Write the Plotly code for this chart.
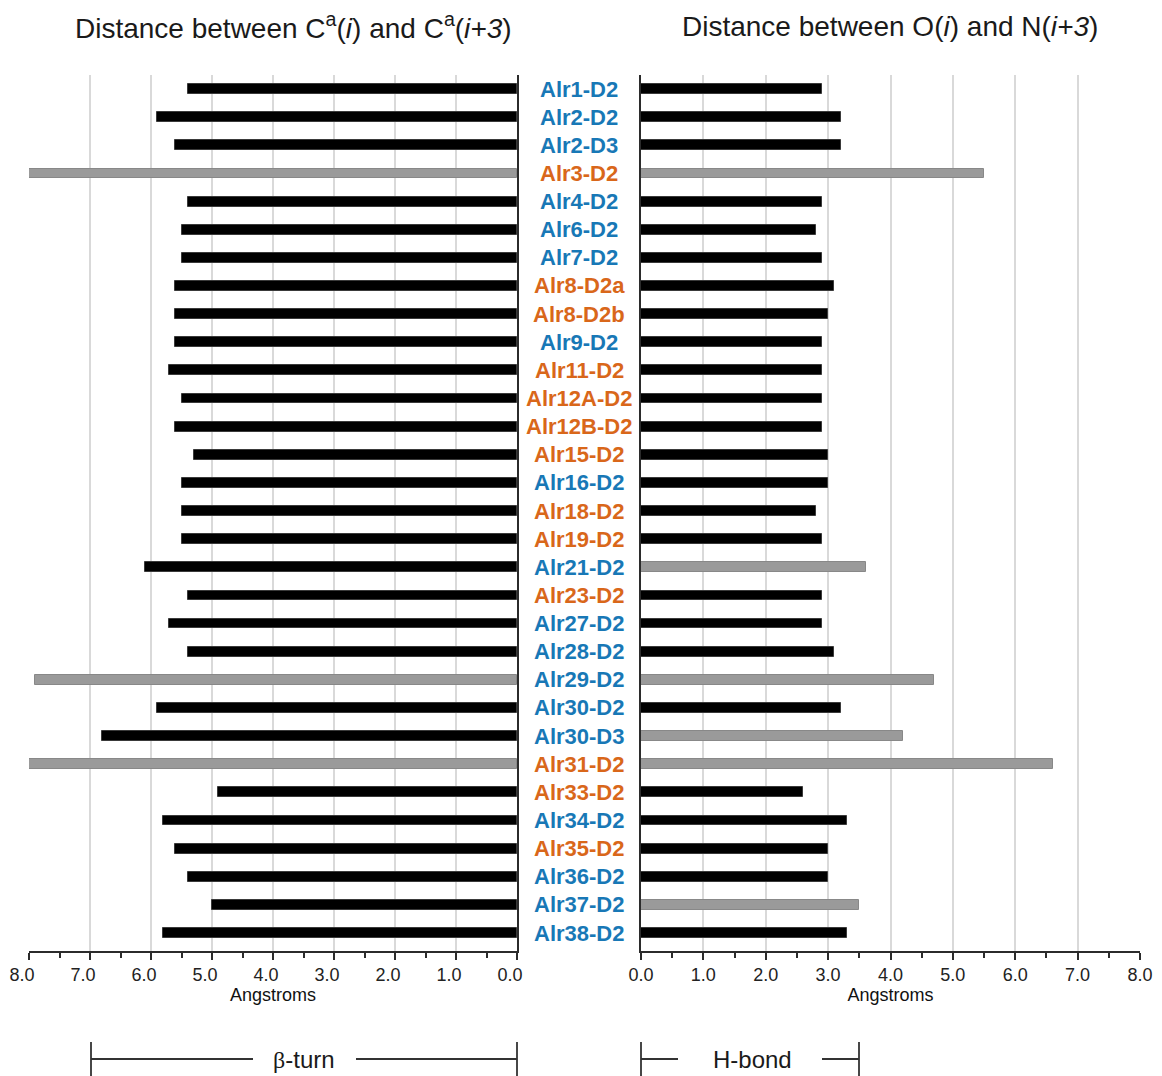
import plotly.graph_objects as go

categories = ["Alr1-D2", "Alr2-D2", "Alr2-D3", "Alr3-D2", "Alr4-D2", "Alr6-D2", "Alr7-D2",
              "Alr8-D2a", "Alr8-D2b", "Alr9-D2", "Alr11-D2", "Alr12A-D2", "Alr12B-D2",
              "Alr15-D2", "Alr16-D2", "Alr18-D2", "Alr19-D2", "Alr21-D2", "Alr23-D2",
              "Alr27-D2", "Alr28-D2", "Alr29-D2", "Alr30-D2", "Alr30-D3", "Alr31-D2",
              "Alr33-D2", "Alr34-D2", "Alr35-D2", "Alr36-D2", "Alr37-D2", "Alr38-D2"]

# label group: "b" = blue, "o" = orange
label_group = ["b", "b", "b", "o", "b", "b", "b",
               "o", "o", "b", "o", "o", "o",
               "o", "b", "o", "o", "b", "o",
               "b", "b", "b", "b", "b", "o",
               "o", "b", "o", "b", "b", "b"]

# Distance between Ca(i) and Ca(i+3), Angstroms
ca_dist = [5.4, 5.9, 5.6, 8.0, 5.4, 5.5, 5.5,
           5.6, 5.6, 5.6, 5.7, 5.5, 5.6,
           5.3, 5.5, 5.5, 5.5, 6.1, 5.4,
           5.7, 5.4, 7.9, 5.9, 6.8, 8.0,
           4.9, 5.8, 5.6, 5.4, 5.0, 5.8]
# 1 = not a beta-turn (grey)
ca_out = [0, 0, 0, 1, 0, 0, 0,
          0, 0, 0, 0, 0, 0,
          0, 0, 0, 0, 0, 0,
          0, 0, 1, 0, 0, 1,
          0, 0, 0, 0, 0, 0]

# Distance between O(i) and N(i+3), Angstroms
on_dist = [2.9, 3.2, 3.2, 5.5, 2.9, 2.8, 2.9,
           3.1, 3.0, 2.9, 2.9, 2.9, 2.9,
           3.0, 3.0, 2.8, 2.9, 3.6, 2.9,
           2.9, 3.1, 4.7, 3.2, 4.2, 6.6,
           2.6, 3.3, 3.0, 3.0, 3.5, 3.3]
# 1 = no H-bond (grey)
on_out = [0, 0, 0, 1, 0, 0, 0,
          0, 0, 0, 0, 0, 0,
          0, 0, 0, 0, 1, 0,
          0, 0, 1, 0, 1, 1,
          0, 0, 0, 0, 1, 0]

tick_vals = [0, 1, 2, 3, 4, 5, 6, 7, 8]
tick_text = ["0.0", "1.0", "2.0", "3.0", "4.0", "5.0", "6.0", "7.0", "8.0"]

BLACK = "#000000"
GREY = "#9a9a9a"
BLUE = "#1878b6"
ORANGE = "#d9671a"
AXIS = "#2b2b2b"
GRID = "#d9d9d9"
FONT = "Liberation Sans, Arial, sans-serif"

W, H = 1162, 1076
OFF = 8  # page body margin
idx = list(range(len(categories)))

def px_x(p):
    return (p - OFF) / W

def px_y(p):
    return (H - (p - OFF)) / H

fig = go.Figure()

fig.add_trace(go.Bar(
    x=ca_dist, y=idx, orientation="h", xaxis="x", yaxis="y", width=0.35,
    marker=dict(color=[GREY if f else BLACK for f in ca_out],
                line=dict(color=["#888888" if f else "#3a3a3a" for f in ca_out], width=1)),
    showlegend=False, hoverinfo="skip"))

fig.add_trace(go.Bar(
    x=on_dist, y=idx, orientation="h", xaxis="x2", yaxis="y2", width=0.35,
    marker=dict(color=[GREY if f else BLACK for f in on_out],
                line=dict(color=["#888888" if f else "#3a3a3a" for f in on_out], width=1)),
    showlegend=False, hoverinfo="skip"))

ydom = [px_y(951), px_y(75)]
yr = [len(categories) - 1 + 0.64, -0.5]

xcommon = dict(
    tickmode="array", tickvals=tick_vals, ticktext=tick_text,
    showgrid=True, gridcolor=GRID, gridwidth=1.5,
    showline=True, linecolor=AXIS, linewidth=1.5,
    ticks="outside", ticklen=7, tickwidth=1.5, tickcolor=AXIS,
    minor=dict(ticks="outside", ticklen=5, tickwidth=1.5, tickcolor=AXIS,
               dtick=0.5, tick0=0, showgrid=False),
    tickfont=dict(family=FONT, size=18, color="#222222"),
    zeroline=False, fixedrange=True, automargin=False,
    title=dict(text="Angstroms", font=dict(family=FONT, size=18, color="#111111"), standoff=1),
)

ycommon = dict(range=yr, domain=ydom, showgrid=False, zeroline=False,
               showticklabels=False, ticks="", showline=True, automargin=False,
               linecolor=AXIS, linewidth=1.8, fixedrange=True)

fig.update_layout(
    width=W, height=H,
    margin=dict(l=0, r=0, t=0, b=0, autoexpand=False),
    paper_bgcolor="white", plot_bgcolor="white",
    font=dict(family=FONT),
    bargap=0,
    xaxis=dict(domain=[px_x(29), px_x(517)], range=[8, 0], anchor="y",
               ticklabelshift=7, **xcommon),
    xaxis2=dict(domain=[px_x(641), px_x(1140)], range=[0, 8], anchor="y2",
                ticklabelshift=0, **xcommon),
    yaxis=dict(anchor="x", side="right", **ycommon),
    yaxis2=dict(anchor="x2", side="left", **ycommon),
)

annotations = []
for i, (name, g) in enumerate(zip(categories, label_group)):
    annotations.append(dict(
        x=px_x(579), y=i, xref="paper", yref="y", text=f"<b>{name}</b>",
        showarrow=False, xanchor="center", yanchor="middle",
        font=dict(family=FONT, size=22, color=BLUE if g == "b" else ORANGE)))

annotations.append(dict(
    x=px_x(293), y=px_y(26), xref="paper", yref="paper",
    text="Distance between C<sup>a</sup>(<i>i</i>) and C<sup>a</sup>(<i>i+3</i>)",
    showarrow=False, xanchor="center", yanchor="middle",
    font=dict(family=FONT, size=28, color="#1a1a1a")))
annotations.append(dict(
    x=px_x(890), y=px_y(26), xref="paper", yref="paper",
    text="Distance between O(<i>i</i>) and N(<i>i+3</i>)",
    showarrow=False, xanchor="center", yanchor="middle",
    font=dict(family=FONT, size=28, color="#1a1a1a")))

annotations.append(dict(
    x=px_x(304), y=px_y(1059), xref="paper", yref="paper",
    text="<span style='font-family:Liberation Serif, serif'>β</span>-turn",
    showarrow=False, xanchor="center", yanchor="middle",
    font=dict(family=FONT, size=24, color="#1a1a1a")))
annotations.append(dict(
    x=px_x(752), y=px_y(1059), xref="paper", yref="paper",
    text="H-bond",
    showarrow=False, xanchor="center", yanchor="middle",
    font=dict(family=FONT, size=24, color="#1a1a1a")))

fig.update_layout(annotations=annotations)

# bracket shapes (pixel positions converted to paper)
line = dict(color="#333333", width=1.8)
shapes = []
for x0, x1 in [(91, 253), (356, 517), (641, 678), (822, 859)]:
    shapes.append(dict(type="line", xref="paper", yref="paper",
                       x0=px_x(x0), x1=px_x(x1), y0=px_y(1059), y1=px_y(1059), line=line))
for xv in [91, 517, 641, 859]:
    shapes.append(dict(type="line", xref="paper", yref="paper",
                       x0=px_x(xv), x1=px_x(xv), y0=px_y(1042), y1=px_y(1076), line=line))
fig.update_layout(shapes=shapes)

fig.write_html("out.html")
